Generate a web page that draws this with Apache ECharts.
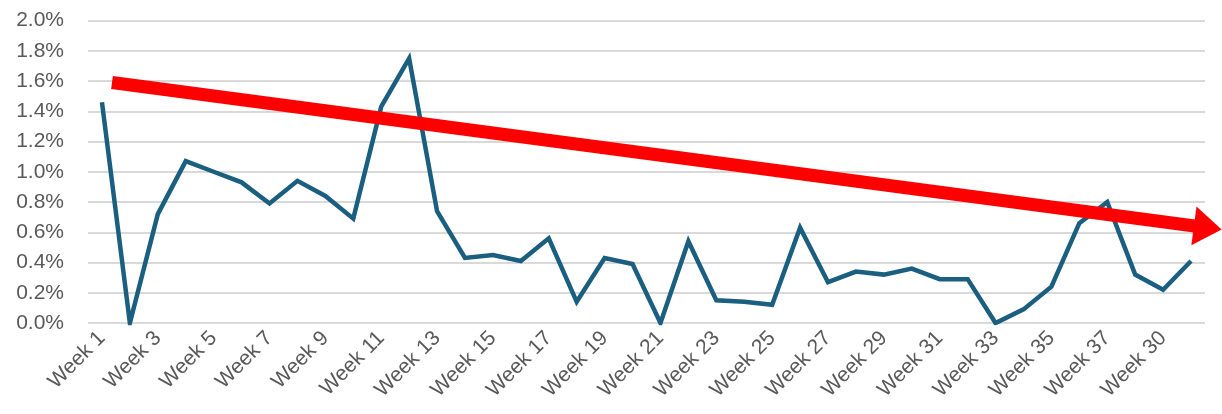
<!DOCTYPE html>
<html>
<head>
<meta charset="utf-8">
<script src="https://cdn.jsdelivr.net/npm/echarts@6/dist/echarts.min.js"></script>
<style>
  html, body { margin: 0; padding: 0; background: #fff; }
  #chart { width: 1222px; height: 414px; }
</style>
</head>
<body>
<div id="chart"></div>
<script>
// categories as labelled in the source (note the odd "Week 30" near the end)
const weeks = [
  'Week 1', 'Week 2', 'Week 3', 'Week 4', 'Week 5', 'Week 6', 'Week 7', 'Week 8',
  'Week 9', 'Week 10', 'Week 11', 'Week 12', 'Week 13', 'Week 14', 'Week 15', 'Week 16',
  'Week 17', 'Week 18', 'Week 19', 'Week 20', 'Week 21', 'Week 22', 'Week 23', 'Week 24',
  'Week 25', 'Week 26', 'Week 27', 'Week 28', 'Week 29', 'Week 30', 'Week 31', 'Week 32',
  'Week 33', 'Week 34', 'Week 35', 'Week 36', 'Week 37', 'Week 38', 'Week 30', 'Week 40'
]

// weekly rate, in percent
const rates = [
  1.46, 0.00, 0.72, 1.07, 1.00, 0.93, 0.79, 0.94, 0.84, 0.69,
  1.43, 1.75, 0.74, 0.43, 0.45, 0.41, 0.56, 0.14, 0.43, 0.39,
  0.00, 0.54, 0.15, 0.14, 0.12, 0.63, 0.27, 0.34, 0.32, 0.36,
  0.29, 0.29, 0.00, 0.09, 0.24, 0.66, 0.80, 0.32, 0.22, 0.41
]

// hand-drawn trend arrow: [week index, percent] for start and arrow head
const trendStart = [0.36, 1.59]
const trendEnd = [39.6, 0.63]

const yTicks = [0, 0.2, 0.4, 0.6, 0.8, 1.0, 1.2, 1.4, 1.6, 1.8, 2.0]

const chart = echarts.init(document.getElementById('chart'))

const textColor = '#595959'
const font = '"Liberation Sans", Arial, sans-serif'

const option = {
  animation: false,
  grid: {
    left: 88,
    right: 17,
    top: 20.5,
    bottom: 91
  },
  xAxis: [
    {
      type: 'category',
      data: weeks,
      boundaryGap: true,
      axisLine: { show: false },
      axisTick: { show: false },
      axisLabel: {
        interval: 1,
        rotate: 45,
        color: textColor,
        fontSize: 21,
        fontFamily: font,
        margin: 12
      }
    },
    {
      // hidden numeric twin of the category axis, used for the trend arrow
      type: 'value',
      min: -0.5,
      max: weeks.length - 0.5,
      show: false
    }
  ],
  yAxis: {
    type: 'value',
    min: yTicks[0],
    max: yTicks[yTicks.length - 1],
    interval: 0.2,
    axisLine: { show: false },
    axisTick: { show: false },
    splitLine: { lineStyle: { color: '#d9d9d9', width: 2 } },
    axisLabel: {
      color: textColor,
      fontSize: 21,
      fontFamily: font,
      margin: 24,
      formatter: (v) => v.toFixed(1) + '%'
    }
  },
  series: [
    {
      name: 'Rate',
      type: 'line',
      data: rates,
      showSymbol: false,
      lineStyle: { color: '#1a5e80', width: 4.5, join: 'miter' },
      itemStyle: { color: '#1a5e80' },
      z: 2
    },
    {
      name: 'Trend',
      type: 'line',
      xAxisIndex: 1,
      clip: false,
      showSymbol: true,
      lineStyle: { color: '#ff0000', width: 13, cap: 'butt' },
      itemStyle: { color: '#ff0000' },
      data: [
        { value: trendStart, symbol: 'none' },
        { value: trendEnd, symbol: 'triangle', symbolSize: [39, 28], symbolRotate: -97.6 }
      ],
      z: 3
    }
  ]
}

chart.setOption(option)
</script>
</body>
</html>
